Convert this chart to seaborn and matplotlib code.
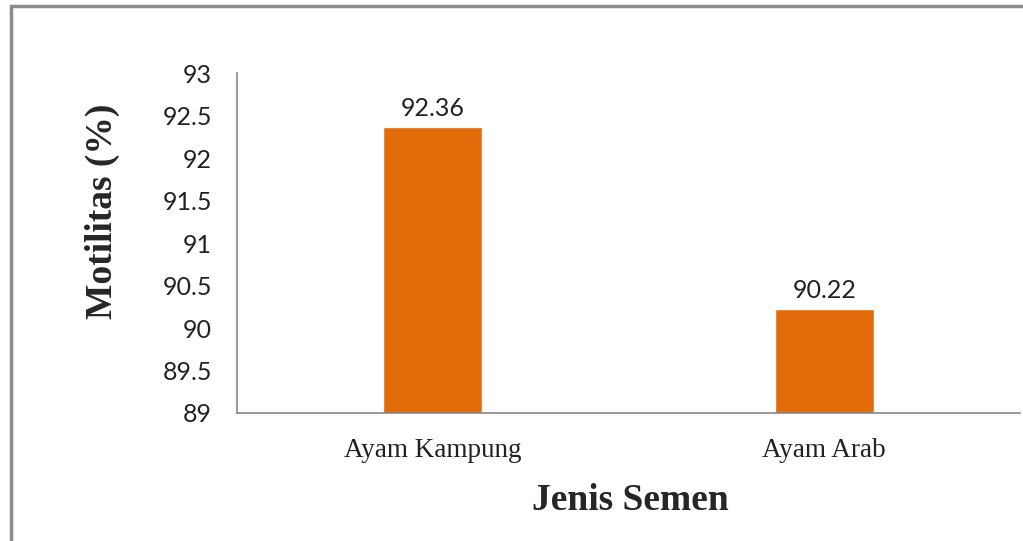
import pandas as pd
import seaborn as sns
import matplotlib.pyplot as plt
from matplotlib.patches import Rectangle

categories = ["Ayam Kampung", "Ayam Arab"]
motilitas = [92.36, 90.22]
y_ticks = [89, 89.5, 90, 90.5, 91, 91.5, 92, 92.5, 93]
y_tick_labels = ["89", "89.5", "90", "90.5", "91", "91.5", "92", "92.5", "93"]


def main():
    sns.set_style("white")
    df = pd.DataFrame({"Jenis Semen": categories, "Motilitas": motilitas})

    fig = plt.figure(figsize=(10.23, 5.41), dpi=100)
    ax = fig.add_axes([0.2317, 0.2366, 0.7653, 0.6284])

    sns.barplot(data=df, x="Jenis Semen", y="Motilitas", color="#E36C0A",
                saturation=1, width=0.253, ax=ax)

    ax.set_ylim(89, 93)
    ax.set_xlim(-0.5, 1.5)
    ax.set_yticks(y_ticks)
    ax.set_yticklabels(y_tick_labels, fontfamily="Lato", fontsize=18, color="#222222")
    ax.set_xticks(range(len(categories)))
    ax.set_xticklabels(categories, fontfamily="Liberation Serif", fontsize=19.5, color="#222222")
    ax.tick_params(axis="both", length=0)
    ax.tick_params(axis="y", pad=18)
    ax.tick_params(axis="x", pad=18)

    for side in ["top", "right"]:
        ax.spines[side].set_visible(False)
    for side in ["left", "bottom"]:
        ax.spines[side].set_color("#888888")
        ax.spines[side].set_linewidth(1.2)

    for container in ax.containers:
        ax.bar_label(container, labels=[f"{v:.2f}" for v in motilitas],
                     fontfamily="Lato", fontsize=18, color="#222222", padding=5)

    ax.set_xlabel("Jenis Semen", fontfamily="Liberation Serif", fontsize=27,
                  fontweight="bold")
    ax.xaxis.set_label_coords(0.503, -0.206)
    ax.set_ylabel("Motilitas (%)", fontfamily="Liberation Serif", fontsize=27,
                  fontweight="bold")
    ax.yaxis.set_label_coords(-0.149, 0.594)

    # outer frame of the chart area
    fig.patches.append(Rectangle((11 / 1023, -0.1), 1.2, 1 - 6 / 541 + 0.1,
                                 transform=fig.transFigure, fill=False,
                                 edgecolor="#8c8c8c", linewidth=2.5))

    fig.savefig("out.png", dpi=100)


if __name__ == "__main__":
    main()
